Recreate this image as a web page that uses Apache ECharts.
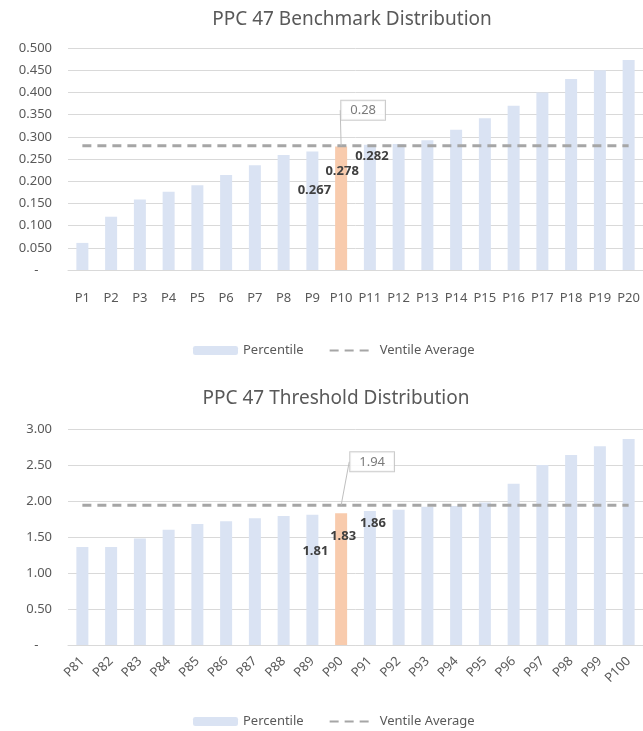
<!DOCTYPE html>
<html>
<head>
<meta charset="utf-8">
<script src="https://cdn.jsdelivr.net/npm/echarts@6/dist/echarts.min.js"></script>
<style>
html,body{margin:0;padding:0;background:#fff;}
#c{width:643px;height:731px;}
</style>
</head>
<body>
<div id="c"></div>
<script>
// ---- Data ----
const titleTop = 'PPC 47 Benchmark Distribution';
const titleBottom = 'PPC 47 Threshold Distribution';
const catsTop = ['P1','P2','P3','P4','P5','P6','P7','P8','P9','P10','P11','P12','P13','P14','P15','P16','P17','P18','P19','P20'];
const valsTop = [0.061,0.120,0.159,0.176,0.191,0.214,0.236,0.259,0.267,0.278,0.282,0.284,0.292,0.316,0.342,0.370,0.400,0.430,0.450,0.473];
const ventileTop = 0.28;
const highlightTop = 'P10';
const labeledTop = ['P9','P10','P11'];

const catsBottom = ['P81','P82','P83','P84','P85','P86','P87','P88','P89','P90','P91','P92','P93','P94','P95','P96','P97','P98','P99','P100'];
const valsBottom = [1.36,1.36,1.48,1.60,1.68,1.72,1.76,1.79,1.81,1.83,1.86,1.88,1.92,1.93,1.98,2.24,2.50,2.64,2.76,2.86];
const ventileBottom = 1.94;
const highlightBottom = 'P90';
const labeledBottom = ['P89','P90','P91'];

const yTicksTop = {min:0, max:0.5, interval:0.05, decimals:3};
const yTicksBottom = {min:0, max:3, interval:0.5, decimals:2};

// ---- Styles ----
const FONT = '"Noto Sans", sans-serif';
const GRAY = '#595959';
const BAR = '#dae3f3';
const HI = '#f8cbad';
const DASH = '#a6a6a6';
const GRID = '#d9d9d9';

const labelOffsetsTop = [[2,27],[1,13],[2,0]];
const labelOffsetsBottom = [[3,25],[2,12],[3,1]];

function barData(cats, vals, hi, labeled, offsets, dec) {
  return vals.map((v, i) => {
    const c = cats[i];
    const item = {value: v, itemStyle: {color: c === hi ? HI : BAR}};
    const li = labeled.indexOf(c);
    if (li >= 0) {
      item.label = {
        show: true, position: 'insideTop', offset: offsets[li],
        formatter: () => v.toFixed(dec),
        color: '#404040', fontWeight: 'bold', fontSize: 13, fontFamily: FONT
      };
    }
    return item;
  });
}

function yAxis(idx, t) {
  return {
    type: 'value', gridIndex: idx, min: t.min, max: t.max, interval: t.interval,
    axisLine: {show: false}, axisTick: {show: false},
    splitLine: {lineStyle: {color: GRID, width: 1}},
    axisLabel: {
      color: GRAY, fontSize: 13, fontFamily: FONT, margin: 16,
      formatter: v => (Math.abs(v) < 1e-9 ? '-    ' : v.toFixed(t.decimals))
    }
  };
}

const legendData = [
  {name: 'Percentile'},
  {name: 'Ventile Average', itemStyle: {opacity: 0}}
];

const chart = echarts.init(document.getElementById('c'), null, {renderer: 'canvas'});
const option = {
  backgroundColor: '#fff',
  animation: false,
  title: [
    {text: titleTop, left: 347, textAlign: 'center', top: 5,
     textStyle: {fontFamily: FONT, fontSize: 19, fontWeight: 'normal', color: GRAY}},
    {text: titleBottom, left: 331, textAlign: 'center', top: 384,
     textStyle: {fontFamily: FONT, fontSize: 19, fontWeight: 'normal', color: GRAY}}
  ],
  legend: [
    {data: legendData, left: 188, top: 339, itemWidth: 45, itemHeight: 9, itemGap: 25,
     textStyle: {color: GRAY, fontSize: 13, fontFamily: FONT}, selectedMode: false},
    {data: legendData, left: 188, top: 710, itemWidth: 45, itemHeight: 9, itemGap: 25,
     textStyle: {color: GRAY, fontSize: 13, fontFamily: FONT}, selectedMode: false}
  ],
  grid: [
    {left: 68, right: -2, top: 48, height: 222},
    {left: 68, right: -2, top: 429, height: 216}
  ],
  xAxis: [
    {type: 'category', gridIndex: 0, data: catsTop,
     axisLine: {lineStyle: {color: GRID}}, axisTick: {show: false},
     axisLabel: {color: GRAY, fontSize: 13, fontFamily: FONT, margin: 22, interval: 0}},
    {type: 'category', gridIndex: 1, data: catsBottom,
     axisLine: {lineStyle: {color: GRID}}, axisTick: {show: false},
     axisLabel: {color: GRAY, fontSize: 13, fontFamily: FONT, margin: 14, interval: 0, rotate: 45}}
  ],
  yAxis: [yAxis(0, yTicksTop), yAxis(1, yTicksBottom)],
  series: [
    {name: 'Percentile', type: 'bar', xAxisIndex: 0, yAxisIndex: 0, barWidth: 12,
     itemStyle: {color: BAR},
     data: barData(catsTop, valsTop, highlightTop, labeledTop, labelOffsetsTop, 3)},
    {name: 'Ventile Average', type: 'line', xAxisIndex: 0, yAxisIndex: 0, symbol: 'none',
     lineStyle: {color: DASH, width: 3, type: [9, 6]}, itemStyle: {color: DASH},
     data: catsTop.map(() => ventileTop), z: 3},
    {name: 'calloutTop', type: 'scatter', xAxisIndex: 0, yAxisIndex: 0, symbolSize: 0,
     data: [[highlightTop, ventileTop]],
     label: {show: true, position: 'top', formatter: () => String(ventileTop),
       color: GRAY, fontSize: 13, fontFamily: FONT, backgroundColor: '#fff',
       borderColor: '#bfbfbf', borderWidth: 1, padding: [3, 9]},
     labelLayout: {dx: 22, dy: -21},
     labelLine: {show: true, lineStyle: {color: '#bfbfbf', width: 1}}, z: 5},

    {name: 'Percentile', type: 'bar', xAxisIndex: 1, yAxisIndex: 1, barWidth: 12,
     itemStyle: {color: BAR},
     data: barData(catsBottom, valsBottom, highlightBottom, labeledBottom, labelOffsetsBottom, 2)},
    {name: 'Ventile Average', type: 'line', xAxisIndex: 1, yAxisIndex: 1, symbol: 'none',
     lineStyle: {color: DASH, width: 3, type: [9, 6]}, itemStyle: {color: DASH},
     data: catsBottom.map(() => ventileBottom), z: 3},
    {name: 'calloutBottom', type: 'scatter', xAxisIndex: 1, yAxisIndex: 1, symbolSize: 0,
     data: [[highlightBottom, ventileBottom]],
     label: {show: true, position: 'top', formatter: () => ventileBottom.toFixed(2),
       color: GRAY, fontSize: 13, fontFamily: FONT, backgroundColor: '#fff',
       borderColor: '#bfbfbf', borderWidth: 1, padding: [3, 9]},
     labelLayout: {dx: 31, dy: -29},
     labelLine: {show: true, lineStyle: {color: '#bfbfbf', width: 1}}, z: 5}
  ]
};
chart.setOption(option);
</script>
</body>
</html>
